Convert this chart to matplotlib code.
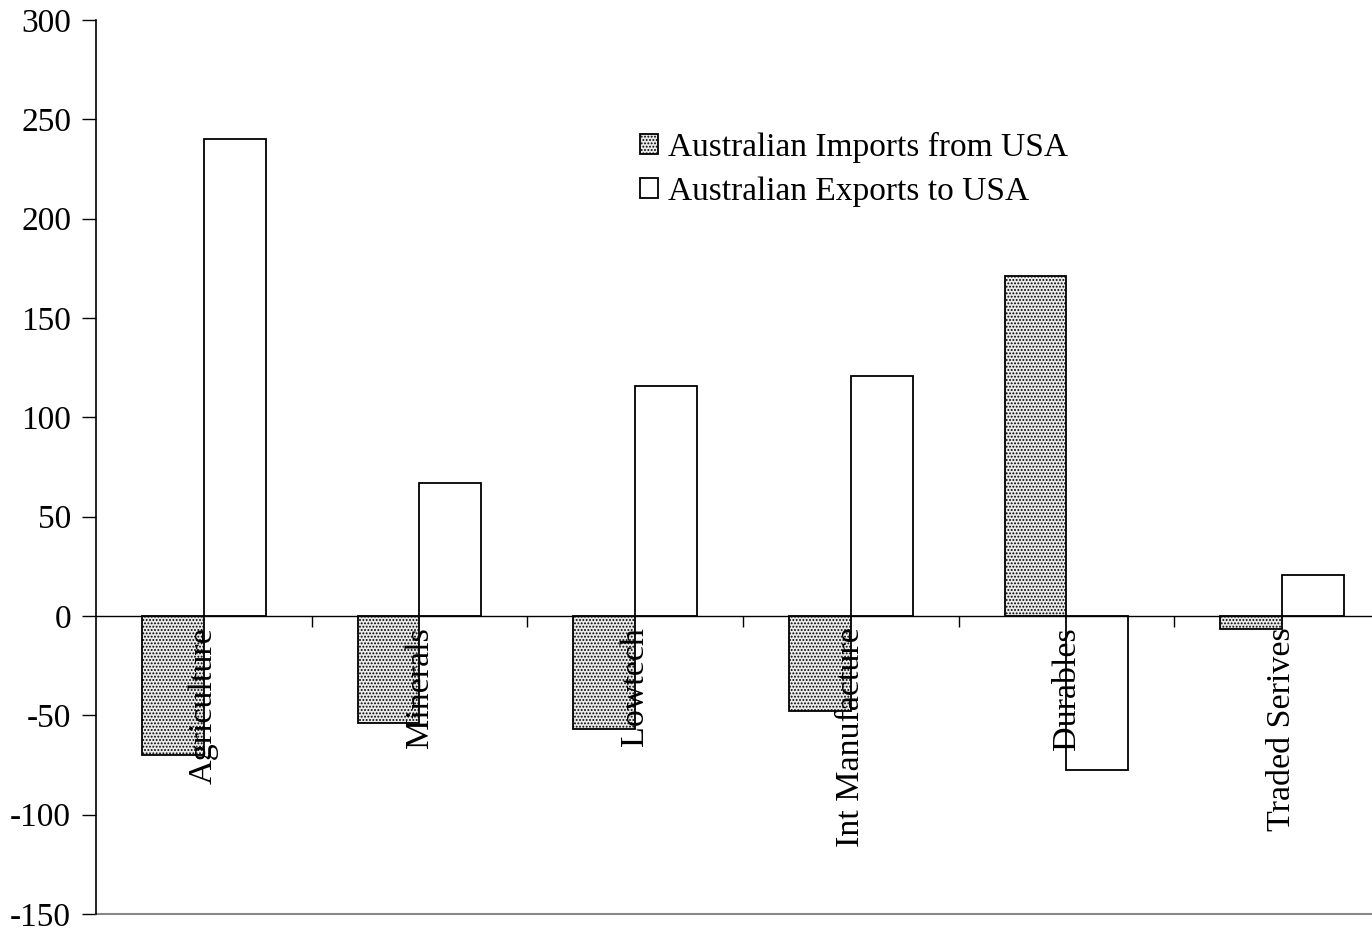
import numpy as np
import matplotlib
matplotlib.use('Agg')
from matplotlib import pyplot as plt

plt.rcParams['font.family'] = ['Liberation Serif', 'DejaVu Serif']
plt.rcParams['axes.unicode_minus'] = False
plt.rcParams['hatch.linewidth'] = 0.9

categories = ['Agriculture', 'Minerals', 'Lowtech', 'Int Manufacture', 'Durables', 'Traded Serives']
imports_usa = [-70, -54, -57, -48, 171, -6.5]
exports_usa = [240, 67, 116, 121, -77.5, 20.5]
yticks = [-150, -100, -50, 0, 50, 100, 150, 200, 250, 300]

fig = plt.figure(figsize=(13.72, 9.33), dpi=100)
ax = fig.add_axes([0.070, 0.0204, 0.943, 0.9582])

x = np.arange(len(categories))
w = 0.287
ax.bar(x - w/2, imports_usa, w, facecolor='#ebebeb', edgecolor='black', hatch='.....',
       linewidth=1.3, label='Australian Imports from USA')
ax.bar(x + w/2, exports_usa, w, facecolor='white', edgecolor='black',
       linewidth=1.3, label='Australian Exports to USA')

ax.set_xlim(-0.5, len(categories) - 0.5)
ax.set_ylim(-150, 300)
ax.set_yticks(yticks)
ax.tick_params(axis='y', labelsize=24, length=10, width=1, direction='out', pad=8)

ax.spines['top'].set_visible(False)
ax.spines['right'].set_visible(False)
ax.spines['bottom'].set_position(('data', 0))
ax.spines['bottom'].set_linewidth(1)
ax.spines['left'].set_linewidth(1.2)
ax.axhline(-150, color='#888888', linewidth=1.5, clip_on=False)

ax.set_xticks(x[:-1] + 0.5)
ax.set_xticklabels([])
ax.tick_params(axis='x', which='major', length=8, width=1, direction='out')
ax.set_xticks(x, minor=True)
ax.set_xticklabels(categories, minor=True, rotation=90, fontsize=24.5, va='top')
ax.tick_params(axis='x', which='minor', length=0, pad=8)

ax.legend(loc='upper left', bbox_to_anchor=(0.41, 0.89), frameon=False, fontsize=24,
          handlelength=0.55, handleheight=0.55, handletextpad=0.3, labelspacing=0.42,
          borderaxespad=0)

fig.savefig('out.png', dpi=100)
